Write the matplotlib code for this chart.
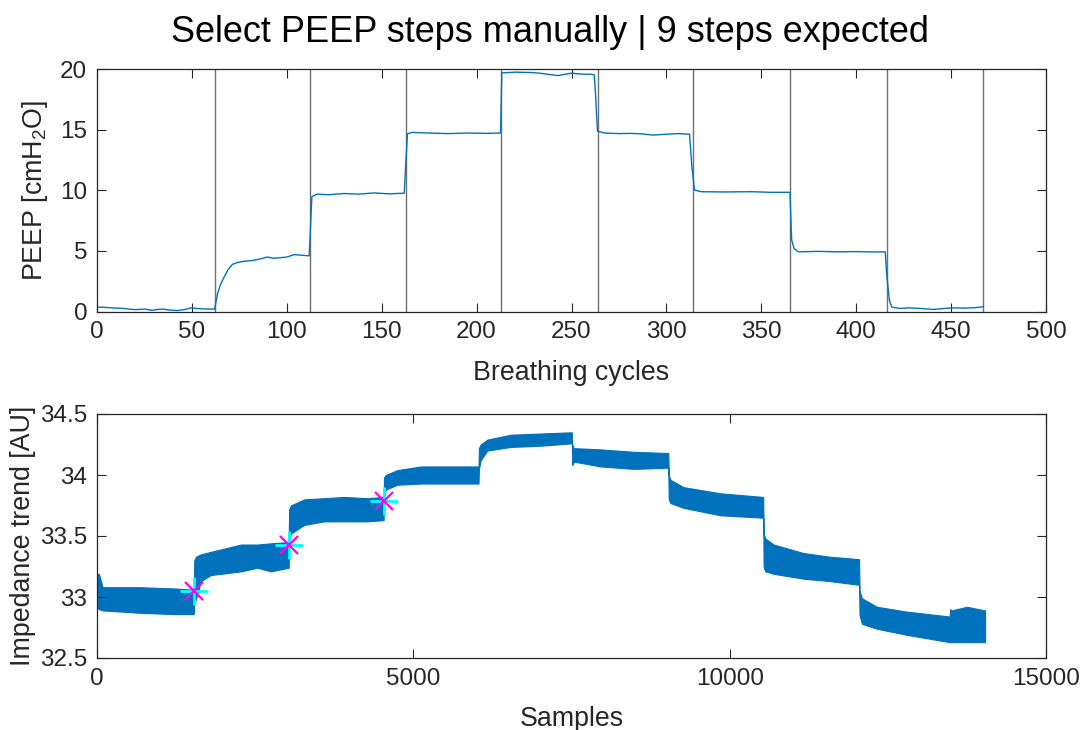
import matplotlib
matplotlib.use("Agg")
import matplotlib.pyplot as plt

plt.rcParams['font.family'] = ['Liberation Sans', 'DejaVu Sans']
plt.rcParams['mathtext.fontset'] = 'custom'
plt.rcParams['mathtext.rm'] = 'Liberation Sans'
plt.rcParams['mathtext.it'] = 'Liberation Sans'
plt.rcParams['mathtext.default'] = 'regular'

TXT = '#262626'
BLUE = '#0072BD'

# --- PEEP per breathing cycle ---
peep_cycle = [1, 2, 8, 14, 20, 25, 29, 32, 35, 38, 42.5, 46, 49.5, 55, 61,
              62, 63.5, 65, 67, 69, 71.4, 74, 77.5, 81, 84.6, 89.8, 93, 96.8, 100, 103.9, 108, 111.8,
              112.5, 113.2, 116, 122, 130, 138, 146, 154, 161.9,
              162.6, 163.6, 166, 175, 185, 195, 205, 212.6,
              213.3, 220.5, 229, 233, 237.8, 243, 250, 255, 260.5, 262,
              262.6, 263.7, 267.5, 275, 281.5, 287, 292.9, 300, 306, 312.2,
              313.4, 314.8, 318.3, 330, 345, 355, 365.1,
              366, 367.3, 369.5, 380, 390, 400, 410, 415.3,
              416.1, 417.5, 418.8, 423.2, 428, 433.7, 440.7, 446, 451.2, 457, 463, 467]
peep_val = [0.35, 0.36, 0.3, 0.25, 0.15, 0.2, 0.1, 0.17, 0.2, 0.12, 0.08, 0.15, 0.3, 0.22, 0.2,
            0.2, 1.47, 2.2, 2.85, 3.45, 3.9, 4.05, 4.15, 4.2, 4.29, 4.5, 4.4, 4.45, 4.5, 4.7, 4.65, 4.6,
            7.0, 9.49, 9.7, 9.65, 9.75, 9.7, 9.8, 9.72, 9.78,
            12.0, 14.69, 14.8, 14.75, 14.7, 14.75, 14.72, 14.75,
            19.72, 19.78, 19.75, 19.7, 19.6, 19.5, 19.7, 19.62, 19.6, 19.55,
            18.1, 14.9, 14.75, 14.7, 14.72, 14.68, 14.58, 14.65, 14.7, 14.65,
            12.0, 10.04, 9.9, 9.88, 9.9, 9.85, 9.85,
            5.9, 5.2, 4.93, 4.97, 4.93, 4.95, 4.92, 4.93,
            3.0, 0.9, 0.36, 0.25, 0.3, 0.25, 0.17, 0.25, 0.3, 0.28, 0.32, 0.4]
step_lines = [62, 112, 163, 213, 264, 314, 365, 416, 467]

# --- impedance trend envelope (upper/lower edge of the dense band) ---
imp_x = [0, 30, 90, 695, 1221, 1530,
         1537, 1563, 1642, 1800, 2274, 2537, 2747, 3030,
         3037, 3063, 3274, 3590, 3906, 4274, 4530,
         4537, 4563, 4747, 5116, 5327, 6030,
         6037, 6064, 6169, 6538, 7011, 7505,
         7511, 7538, 7959, 8485, 9030,
         9037, 9064, 9274, 9853, 10530,
         10537, 10563, 10695, 11169, 11590, 12045,
         12053, 12090, 12327, 12800, 13478,
         13485, 13511, 13748, 14037]
imp_hi = [33.19, 33.19, 33.08, 33.08, 33.07, 33.06,
          33.30, 33.33, 33.35, 33.37, 33.43, 33.43, 33.44, 33.45,
          33.72, 33.75, 33.80, 33.81, 33.82, 33.81, 33.82,
          33.98, 34.00, 34.04, 34.07, 34.07, 34.07,
          34.22, 34.25, 34.29, 34.33, 34.34, 34.35,
          34.25, 34.22, 34.21, 34.19, 34.18,
          34.00, 33.96, 33.90, 33.85, 33.82,
          33.52, 33.48, 33.43, 33.36, 33.33, 33.31,
          33.05, 32.99, 32.92, 32.88, 32.84,
          32.90, 32.89, 32.92, 32.89]
imp_lo = [32.92, 32.90, 32.89, 32.87, 32.86, 32.86,
          32.95, 32.98, 33.13, 33.18, 33.21, 33.24, 33.21, 33.24,
          33.45, 33.52, 33.59, 33.62, 33.62, 33.62, 33.63,
          33.80, 33.88, 33.92, 33.93, 33.93, 33.93,
          34.05, 34.12, 34.20, 34.23, 34.24, 34.26,
          34.08, 34.11, 34.07, 34.05, 34.06,
          33.80, 33.77, 33.73, 33.67, 33.65,
          33.25, 33.21, 33.19, 33.15, 33.13, 33.10,
          32.85, 32.78, 32.74, 32.69, 32.63,
          32.63, 32.63, 32.63, 32.63]

# selected step points
sel_x = [1537, 3037, 4537]
sel_y = [33.05, 33.43, 33.79]

fig = plt.figure(figsize=(10.81, 7.30), dpi=100)
ax1 = fig.add_axes([97 / 1081, (730 - 311.5) / 730, 949 / 1081, 242 / 730])
ax2 = fig.add_axes([97 / 1081, (730 - 658) / 730, 949 / 1081, 244 / 730])

for ax in (ax1, ax2):
    ax.tick_params(direction='in', top=True, right=True, length=6.5, width=0.8,
                   colors=TXT, labelsize=17.5, pad=7)
    for s in ax.spines.values():
        s.set_color(TXT)
        s.set_linewidth(0.9)

# top: PEEP
for c in step_lines:
    ax1.axvline(c, color='#707070', lw=1.0)
ax1.plot(peep_cycle, peep_val, color=BLUE, lw=1.0)
ax1.set_xlim(0, 500)
ax1.set_ylim(0, 20)
ax1.set_xticks(range(0, 501, 50))
ax1.set_yticks(range(0, 21, 5))
ax1.set_xlabel('Breathing cycles', fontsize=19.3, color=TXT, labelpad=12)
ax1.set_ylabel('PEEP [cmH$_2$O]', fontsize=19.3, color=TXT, labelpad=7)

# bottom: impedance trend
ax2.fill_between(imp_x, imp_lo, imp_hi, color=BLUE, lw=0.8, edgecolor=BLUE)
ax2.plot(sel_x, sel_y, '+', color='cyan', ms=20, mew=2.0, ls='none')
ax2.plot(sel_x, sel_y, 'x', color='magenta', ms=13, mew=1.6, ls='none')
ax2.set_xlim(0, 15000)
ax2.set_ylim(32.5, 34.5)
ax2.set_xticks([0, 5000, 10000, 15000])
ax2.set_yticks([32.5, 33, 33.5, 34, 34.5])
ax2.set_yticklabels(['32.5', '33', '33.5', '34', '34.5'])
ax2.set_xlabel('Samples', fontsize=19.3, color=TXT, labelpad=12)
ax2.set_ylabel('Impedance trend [AU]', fontsize=19.3, color=TXT, labelpad=3)

fig.text(550 / 1081, (730 - 42) / 730, 'Select PEEP steps manually | 9 steps expected',
         ha='center', va='baseline', fontsize=26, color='black')

fig.savefig('out.png', dpi=100)
